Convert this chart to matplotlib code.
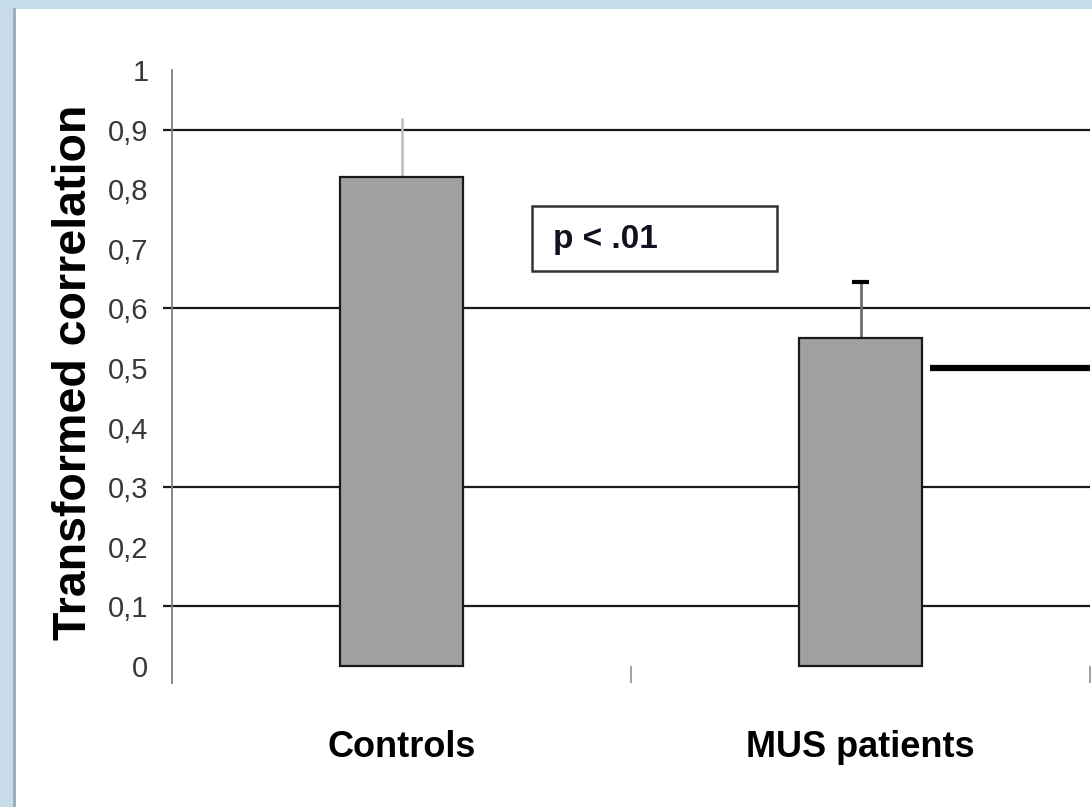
import matplotlib
matplotlib.use('Agg')
import matplotlib.pyplot as plt
from matplotlib.patches import Rectangle

# group means and upper error (SD) of the transformed correlation
groups = ['Controls', 'MUS patients']
means = [0.82, 0.55]
errors = [0.10, 0.095]
grid_levels = [0.1, 0.3, 0.6, 0.9]
yticks = [0, 0.1, 0.2, 0.3, 0.4, 0.5, 0.6, 0.7, 0.8, 0.9, 1]
ytick_labels = ['0', '0,1', '0,2', '0,3', '0,4', '0,5', '0,6', '0,7', '0,8', '0,9', '1']
ref_level = 0.50
p_text = 'p < .01'

narrow = ['Liberation Sans Narrow', 'DejaVu Sans Condensed', 'Liberation Sans']

fig = plt.figure(figsize=(10.92, 8.07), dpi=100)
fig.patch.set_facecolor('#c6dce8')
# white slide panel
fig.patches.append(Rectangle((15/1092, 0), 1, 1 - 9/807, transform=fig.transFigure,
                             facecolor='white', edgecolor='none', zorder=-2))
fig.lines.append(plt.Line2D([14/1092, 14/1092], [0, 1 - 9/807], transform=fig.transFigure,
                            color='#a0a8ae', lw=2, zorder=-1))

ax = fig.add_axes([172/1092, 1 - 683/807, (1090 - 172)/1092, (683 - 70)/807])
ax.set_facecolor('none')
x = range(len(groups))

# horizontal lines behind the bars, poking out left of the axis
ax.hlines(grid_levels, -0.52, 1.5, colors='#1a1a1a', lw=1.6, clip_on=False, zorder=1)

ax.bar(x, means, width=0.27, color='#a0a0a0', edgecolor='#1a1a1a', lw=1.6, zorder=3)

# error bars: controls has no cap, patients has a short black cap
ax.vlines(0, means[0], means[0] + errors[0], colors='#bcbcbc', lw=1.8, zorder=2)
ax.vlines(1, means[1], means[1] + errors[1], colors='#6e6e6e', lw=2, zorder=2)
ax.hlines(means[1] + errors[1], 1 - 0.018, 1 + 0.018, colors='black', lw=3, zorder=4)

ax.hlines(ref_level, 1.151, 1.5, colors='black', lw=4.5, clip_on=False, zorder=4)

# p-value box
ax.add_patch(Rectangle((0.284, 0.662), 0.533, 0.109, facecolor='white',
                       edgecolor='#333333', lw=1.8, zorder=2))
ax.text(0.33, 0.716, p_text, fontsize=24, fontweight='bold', family='Liberation Sans',
        va='center', ha='left', color='#111122', zorder=5)

# small separator ticks below the category zone
ax.vlines([0.5, 1.5], -0.0285, 0, colors='#909090', lw=1.2, clip_on=False)

ax.set_xlim(-0.5, 1.5)
ax.set_ylim(-0.0285, 1.0)
ax.set_yticks(yticks)
ax.set_yticklabels(ytick_labels, family=narrow, fontsize=21, color='#383838')
ax.set_xticks(list(x))
ax.set_xticklabels(groups, family=narrow, fontsize=26, fontweight='bold')
ax.tick_params(axis='y', length=0, pad=17)
ax.tick_params(axis='x', length=0, pad=34)

for s in ['top', 'right', 'bottom']:
    ax.spines[s].set_visible(False)
ax.spines['left'].set_color('#808080')
ax.spines['left'].set_linewidth(1.3)

fig.text(74/1092, 1 - 372/807, 'Transformed correlation', rotation=90, ha='center',
         va='center', family=narrow, fontsize=33.5, fontweight='bold')

fig.savefig('out.png', dpi=100, facecolor=fig.get_facecolor())
